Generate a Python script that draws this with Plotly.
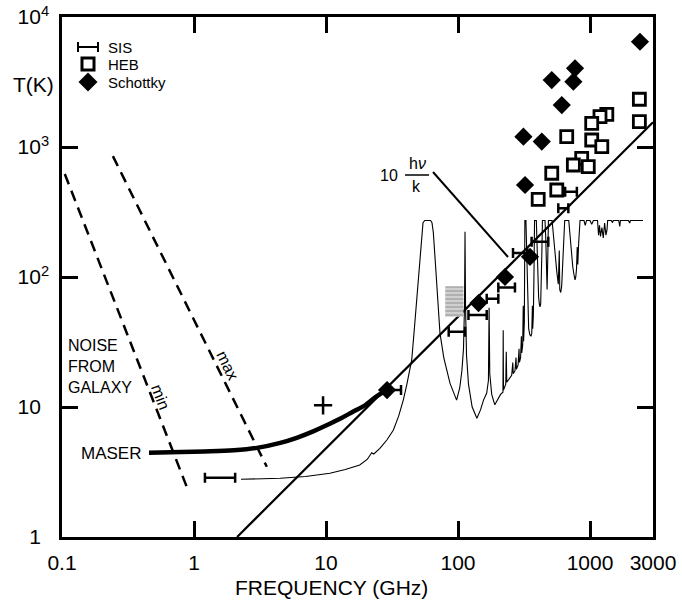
import numpy as np
import plotly.graph_objects as go

# ---------------- data ----------------
# atmospheric / sky brightness curve (GHz, K)
SKY_F = [2.27, 4.5, 7, 10.7, 14, 18, 20.5, 21.5, 22.2, 23,
         25.6, 29, 32.4, 35.5, 38.5, 41, 44.6, 46.5, 48.6, 50.5,
         52, 53, 54.3, 56, 62, 63.5, 65, 67, 69, 71,
         73, 78, 87, 97.6, 103, 107, 110, 112, 113, 114,
         116, 120, 128, 139, 148, 156, 165, 170, 172, 174,
         180, 190, 200, 210, 219, 220, 221, 230, 232, 234,
         245, 255, 260, 262, 270, 275, 277, 285, 290, 292,
         298, 302, 304, 309, 312, 314, 318, 321, 327, 331,
         334, 338, 343, 350, 357, 362, 366, 368, 372, 376,
         380, 392, 397, 402, 408, 413, 418, 423, 428, 432,
         436, 456, 462, 468, 473, 478, 484, 516, 530, 545,
         560, 575, 585, 590, 600, 610, 620, 632, 643, 690,
         705, 720, 740, 755, 770, 780, 790, 800, 808, 820,
         832, 840, 900, 920, 940, 1000, 1030, 1060, 1140, 1160,
         1180, 1200, 1230, 1260, 1290, 1320, 1345, 1360, 1450, 1480,
         1500, 1650, 1680, 1700, 1950, 2000, 2020, 2520]
SKY_T = [2.78, 2.83, 2.92, 3.09, 3.3, 3.58, 3.95, 4.3, 4.45, 4.35,
         4.8, 5.6, 6.65, 8.5, 11.3, 15, 23, 38, 66.5, 110,
         170, 217, 262, 272, 272, 262, 220, 140, 89.5, 55,
         37, 24, 15.2, 11.3, 14, 19, 28, 60, 223, 60,
         25, 15, 10, 8.2, 9.5, 11.3, 12.8, 16, 58, 18,
         12.5, 10.4, 11.5, 12.5, 13, 39, 13.5, 15, 26.6, 15.5,
         16.5, 17.5, 22, 18, 19, 24, 19.5, 21, 28, 22,
         24, 35, 26, 30, 60, 32, 45, 272, 272, 150,
         80, 50, 40, 36, 35, 37, 60, 40, 50, 100,
         272, 272, 160, 100, 70, 62, 59, 62, 90, 160,
         272, 272, 200, 110, 80, 130, 272, 272, 200, 140,
         110, 88, 160, 80, 76, 85, 120, 190, 272, 272,
         200, 150, 120, 105, 95, 100, 115, 170, 125, 180,
         230, 272, 272, 250, 272, 272, 255, 272, 272, 210,
         250, 205, 240, 200, 260, 210, 230, 272, 272, 262,
         272, 272, 245, 272, 272, 260, 272, 272]

# 10 h nu / k line (end points)
HNU_F = [2.12, 3000]
HNU_T = [1.0, 1550]

# maser noise curve
MASER_F = [0.456, 0.8, 1.2, 2, 3, 4.5, 6, 8, 10, 13, 16, 20, 24, 28, 32]
MASER_T = [4.45, 4.5, 4.55, 4.65, 4.85, 5.3, 5.8, 6.5, 7.2, 8.2, 9.2, 10.4, 12, 13.2, 13.9]

# galactic noise, min and max
GAL_MIN_F = [0.105, 0.88]
GAL_MIN_T = [620, 2.44]
GAL_MAX_F = [0.243, 3.56]
GAL_MAX_T = [850, 3.47]

# SIS receivers: band edges and noise temperature
SIS_F_LO = [1.21, 28, 85, 120, 165, 202, 261, 361, 575, 648]
SIS_F_HI = [2.05, 37, 113, 165, 202, 270, 334, 483, 685, 795]
SIS_T = [2.86, 13.5, 38, 51, 68, 83, 153, 187, 338, 453]

# HEB mixers
HEB_F = [2365, 2365, 1340, 1190, 1030, 1030, 1228, 666, 865, 748, 970, 513, 560, 405]
HEB_T = [2330, 1566, 1785, 1710, 1520, 1132, 1005, 1200, 818, 727, 706, 628, 467, 396]

# Schottky mixers
SCH_F = [2390, 770, 513, 748, 611, 313, 431, 322, 351, 227, 143, 29]
SCH_T = [6450, 4030, 3270, 3180, 2100, 1200, 1100, 510, 143, 100, 63, 13.5]

# single "+" point
PLUS_F = [9.5]
PLUS_T = [10.3]

# grey hatched box
HATCH_F = [80, 110]
HATCH_T = [49.5, 85]

X_TICKS = [0.1, 1, 10, 100, 1000, 3000]
X_TICK_LABELS = ["0.1", "1", "10", "100", "1000", "3000"]
Y_TICKS = [1, 10, 100, 1000, 10000]
PAD = "<sup><span style='color:rgba(0,0,0,0)'>2</span></sup>"
Y_TICK_LABELS = ["1" + PAD, "10" + PAD, "10<sup>2</sup>", "10<sup>3</sup>", "10<sup>4</sup>"]

# ---------------- layout geometry (pixels) ----------------
FIG_W, FIG_H = 682, 601
L, R, T, B = 62, 653, 17, 537
W, H = R - L, B - T


def pxp(x):
    return (x - L) / W


def pyp(y):
    return (B - y) / H


FONT = "Liberation Sans, Arial, Helvetica, sans-serif"
BLACK = "black"

fig = go.Figure()

# sky curve
fig.add_trace(go.Scatter(x=SKY_F, y=SKY_T, mode="lines",
                         line=dict(color=BLACK, width=1.1), hoverinfo="skip"))
# hnu/k line
fig.add_trace(go.Scatter(x=HNU_F, y=HNU_T, mode="lines",
                         line=dict(color=BLACK, width=2.2), hoverinfo="skip"))
# maser
fig.add_trace(go.Scatter(x=MASER_F, y=MASER_T, mode="lines",
                         line=dict(color=BLACK, width=4.5, shape="spline"), hoverinfo="skip"))
# galaxy noise
for gf, gt in ((GAL_MIN_F, GAL_MIN_T), (GAL_MAX_F, GAL_MAX_T)):
    fig.add_trace(go.Scatter(x=gf, y=gt, mode="lines",
                             line=dict(color=BLACK, width=2.5, dash="11px,7px"),
                             hoverinfo="skip"))
# hatched box
hx = [HATCH_F[0], HATCH_F[1], HATCH_F[1], HATCH_F[0], HATCH_F[0]]
hy = [HATCH_T[0], HATCH_T[0], HATCH_T[1], HATCH_T[1], HATCH_T[0]]
fig.add_trace(go.Scatter(x=hx, y=hy, mode="lines", fill="toself",
                         line=dict(width=0, color="rgba(0,0,0,0)"),
                         fillcolor="#c8c8c8",
                         fillpattern=dict(shape="-", fgcolor="#8a8a8a", bgcolor="#d0d0d0",
                                          size=4, solidity=0.45),
                         hoverinfo="skip"))
# SIS bars
sis_c = [np.sqrt(a * b) for a, b in zip(SIS_F_LO, SIS_F_HI)]
sis_plus = [b - c for b, c in zip(SIS_F_HI, sis_c)]
sis_minus = [c - a for a, c in zip(SIS_F_LO, sis_c)]
fig.add_trace(go.Scatter(x=sis_c, y=SIS_T, mode="markers",
                         marker=dict(size=1, color="rgba(0,0,0,0)"),
                         error_x=dict(type="data", symmetric=False, array=sis_plus,
                                      arrayminus=sis_minus, thickness=2.5, width=5,
                                      color=BLACK),
                         hoverinfo="skip"))
# HEB squares
fig.add_trace(go.Scatter(x=HEB_F, y=HEB_T, mode="markers",
                         marker=dict(symbol="square", size=12, color="white",
                                     line=dict(color=BLACK, width=2.8)),
                         hoverinfo="skip"))
# Schottky diamonds
fig.add_trace(go.Scatter(x=SCH_F, y=SCH_T, mode="markers",
                         marker=dict(symbol="diamond", size=14, color=BLACK,
                                     line=dict(width=0)),
                         hoverinfo="skip"))
# plus
fig.add_trace(go.Scatter(x=PLUS_F, y=PLUS_T, mode="markers",
                         marker=dict(symbol="cross-thin-open", size=13, color=BLACK,
                                     line=dict(color=BLACK, width=2.5)),
                         hoverinfo="skip"))

# ---------------- annotations ----------------
ann = []


def text(s, x, y, size=16, xanchor="center", yanchor="middle", angle=0, align="center"):
    ann.append(dict(text=s, x=pxp(x), y=pyp(y), xref="paper", yref="paper",
                    showarrow=False, xanchor=xanchor, yanchor=yanchor,
                    textangle=angle, align=align,
                    font=dict(family=FONT, size=size, color=BLACK)))


text("T(K)", 33, 84, size=21)
text("FREQUENCY (GHz)", 331, 587, size=21)
text("NOISE<br>FROM<br>GALAXY", 66, 366, size=16, xanchor="left", align="left")
text("MASER", 143, 453, size=17, xanchor="right")
text("min", 161, 397, size=16, angle=69)
text("max", 228, 365, size=16, angle=64)
text("10", 389, 175, size=16)
text("h<i>ν</i>", 417, 163, size=16)
text("k", 416, 187, size=16)
text("SIS", 106, 47, size=15, xanchor="left")
text("HEB", 106, 64, size=15, xanchor="left")
text("Schottky", 106, 82, size=15, xanchor="left")

# ---------------- shapes (leader, fraction bar, legend keys) ----------------
shapes = []


def pline(x0, y0, x1, y1, w=2):
    shapes.append(dict(type="line", xref="paper", yref="paper",
                       x0=pxp(x0), y0=pyp(y0), x1=pxp(x1), y1=pyp(y1),
                       line=dict(color=BLACK, width=w)))


pline(433, 172, 508, 257, 2)          # leader to the h nu / k line
pline(405, 175, 429, 175, 1.5)        # fraction bar
# legend key: SIS
pline(78, 47, 98, 47, 2)
pline(78, 42, 78, 52, 2)
pline(98, 42, 98, 52, 2)
# legend key: HEB
shapes.append(dict(type="rect", xref="paper", yref="paper",
                   x0=pxp(82), x1=pxp(94), y0=pyp(70), y1=pyp(58),
                   line=dict(color=BLACK, width=3), fillcolor="white"))
# legend key: Schottky
cx, cy, r = 88, 82, 9.5
path = "M {},{} L {},{} L {},{} L {},{} Z".format(
    pxp(cx - r), pyp(cy), pxp(cx), pyp(cy - r), pxp(cx + r), pyp(cy), pxp(cx), pyp(cy + r))
shapes.append(dict(type="path", xref="paper", yref="paper", path=path,
                   fillcolor=BLACK, line=dict(color=BLACK, width=0)))

axis_common = dict(type="log", showline=True, linecolor=BLACK, linewidth=2.5,
                   mirror="ticks", ticks="inside", ticklen=16, tickwidth=2.5,
                   tickcolor=BLACK, showgrid=False, zeroline=False, automargin=False,
                   tickfont=dict(family=FONT, size=21, color=BLACK))

fig.update_layout(
    width=FIG_W, height=FIG_H, autosize=False,
    margin=dict(l=L, r=FIG_W - R, t=T, b=FIG_H - B, pad=0, autoexpand=False),
    paper_bgcolor="white", plot_bgcolor="white",
    showlegend=False,
    xaxis=dict(range=[np.log10(X_TICKS[0]), np.log10(X_TICKS[-1])],
               tickvals=X_TICKS, ticktext=X_TICK_LABELS, ticklabelstandoff=5,
               **axis_common),
    yaxis=dict(range=[0, 4], tickvals=Y_TICKS, ticktext=Y_TICK_LABELS,
               ticklabelstandoff=6, **axis_common),
    annotations=ann, shapes=shapes,
)

fig.write_html("out.html", config={"displayModeBar": False},
               post_script="document.body.style.margin='0px';")
